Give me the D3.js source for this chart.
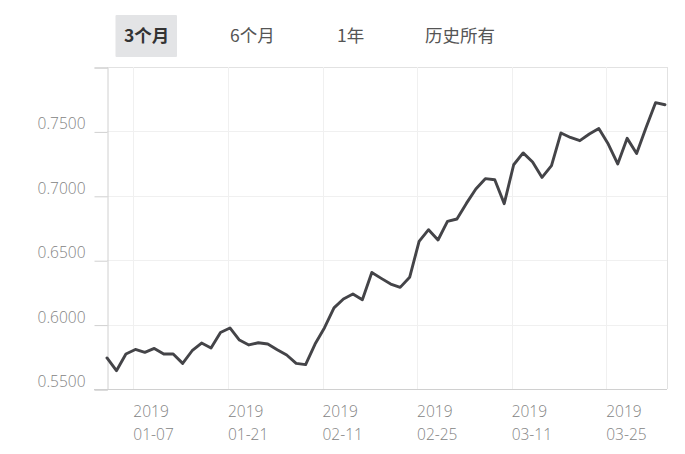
<!DOCTYPE html>
<html><head><meta charset="utf-8">
<script src="https://cdn.jsdelivr.net/npm/d3@7"></script>
<style>
html,body{margin:0;padding:0;background:#fff;}
svg{display:block;}
</style></head>
<body>
<svg id="c" width="685" height="454"></svg>
<script>
// ---- data ----
const tabs = ["3个月", "6个月", "1年", "历史所有"];
const dates = [
 "01-02","01-03","01-04","01-07","01-08","01-09","01-10","01-11","01-14","01-15",
 "01-16","01-17","01-18","01-21","01-22","01-23","01-24","01-25","01-28","01-29",
 "01-30","01-31","02-01","02-11","02-12","02-13","02-14","02-15","02-18","02-19",
 "02-20","02-21","02-22","02-25","02-26","02-27","02-28","03-01","03-04","03-05",
 "03-06","03-07","03-08","03-11","03-12","03-13","03-14","03-15","03-18","03-19",
 "03-20","03-21","03-22","03-25","03-26","03-27","03-28","03-29","04-01","04-02"];
const values = [
 0.5741,0.5642,0.5772,0.5807,0.5784,0.5815,0.5772,0.5772,0.5699,0.5797,
 0.5857,0.5818,0.5939,0.5974,0.5880,0.5842,0.5859,0.5849,0.5805,0.5764,
 0.5699,0.5689,0.5849,0.5976,0.6130,0.6199,0.6238,0.6193,0.6405,0.6359,
 0.6315,0.6289,0.6367,0.6646,0.6737,0.6657,0.6801,0.6820,0.6941,0.7053,
 0.7133,0.7125,0.6939,0.7241,0.7333,0.7263,0.7143,0.7234,0.7488,0.7453,
 0.7428,0.7480,0.7523,0.7402,0.7247,0.7446,0.7329,0.7531,0.7723,0.7707];
const xTickDates = ["01-07","01-21","02-11","02-25","03-11","03-25"];
const xTickYear = "2019";
const yTicks = [0.55, 0.60, 0.65, 0.70, 0.75, 0.80];

// ---- layout ----
const svg = d3.select("#c");
const L = 107, R = 667, T = 67, B = 389;
const x = d3.scalePoint().domain(dates).range([L, R - 2]);
const y = d3.scaleLinear().domain([0.55, 0.80]).range([B, T]);
const labelColor = "#838383";

// tabs
const tabX = [124, 230, 337, 425];
const tg = svg.append("g");
tg.append("rect").attr("x", 115.5).attr("y", 15).attr("width", 61.5).attr("height", 42)
  .attr("fill", "#e3e4e6").attr("rx", 1);
tabs.forEach((t, i) => {
  tg.append("text").attr("x", tabX[i]).attr("y", 42)
    .attr("font-family", "'Noto Sans CJK SC', sans-serif")
    .attr("font-size", 17.5)
    .attr("font-weight", i === 0 ? 700 : 400)
    .attr("fill", i === 0 ? "#333" : "#555")
    .text(t);
});

// gridlines
const grid = svg.append("g");
yTicks.forEach(v => {
  grid.append("line").attr("x1", L).attr("x2", R).attr("y1", Math.round(y(v)) + 0.5).attr("y2", Math.round(y(v)) + 0.5)
    .attr("stroke", v === 0.80 ? "#e2e2e2" : "#f0f0f0");
});
xTickDates.forEach(d => {
  grid.append("line").attr("x1", Math.round(x(d)) - 1.5).attr("x2", Math.round(x(d)) - 1.5).attr("y1", T).attr("y2", B)
    .attr("stroke", "#f0f0f0");
});
// right border
grid.append("line").attr("x1", R + 0.5).attr("x2", R + 0.5).attr("y1", T).attr("y2", B).attr("stroke", "#e2e2e2");

// y axis
const yAxis = d3.axisLeft(y).tickValues(yTicks).tickSize(13).tickFormat(d3.format(".4f"));
const yg = svg.append("g").attr("transform", `translate(${L + 0.5},0.5)`).call(yAxis);
yg.select(".domain").attr("stroke", "#d0d0d0");
yg.selectAll(".tick line").attr("stroke", "#d0d0d0");
yg.selectAll(".tick text")
  .attr("x", -22).attr("dy", -3)
  .attr("font-family", "'Open Sans', sans-serif").attr("font-weight", 300)
  .attr("font-size", 15.5).attr("fill", labelColor)
  .text(d => d === 0.80 ? "" : d3.format(".4f")(d));

// x axis line
svg.append("line").attr("x1", L - 13).attr("x2", R).attr("y1", B + 0.5).attr("y2", B + 0.5).attr("stroke", "#d0d0d0");
const xg = svg.append("g");
xTickDates.forEach(d => {
  const t = xg.append("text").attr("x", x(d) - 2).attr("y", 417)
    .attr("font-family", "'Open Sans', sans-serif").attr("font-weight", 300)
    .attr("font-size", 15.5).attr("fill", labelColor);
  t.append("tspan").attr("x", x(d) - 2).attr("y", 417).text(xTickYear);
  t.append("tspan").attr("x", x(d) - 2).attr("y", 440).text(d);
});

// line
const line = d3.line().x((d, i) => x(dates[i])).y(d => y(d));
svg.append("path").datum(values).attr("d", line)
  .attr("fill", "none").attr("stroke", "#444448").attr("stroke-width", 2.9)
  .attr("stroke-linejoin", "round").attr("stroke-linecap", "round");
</script>
</body></html>
